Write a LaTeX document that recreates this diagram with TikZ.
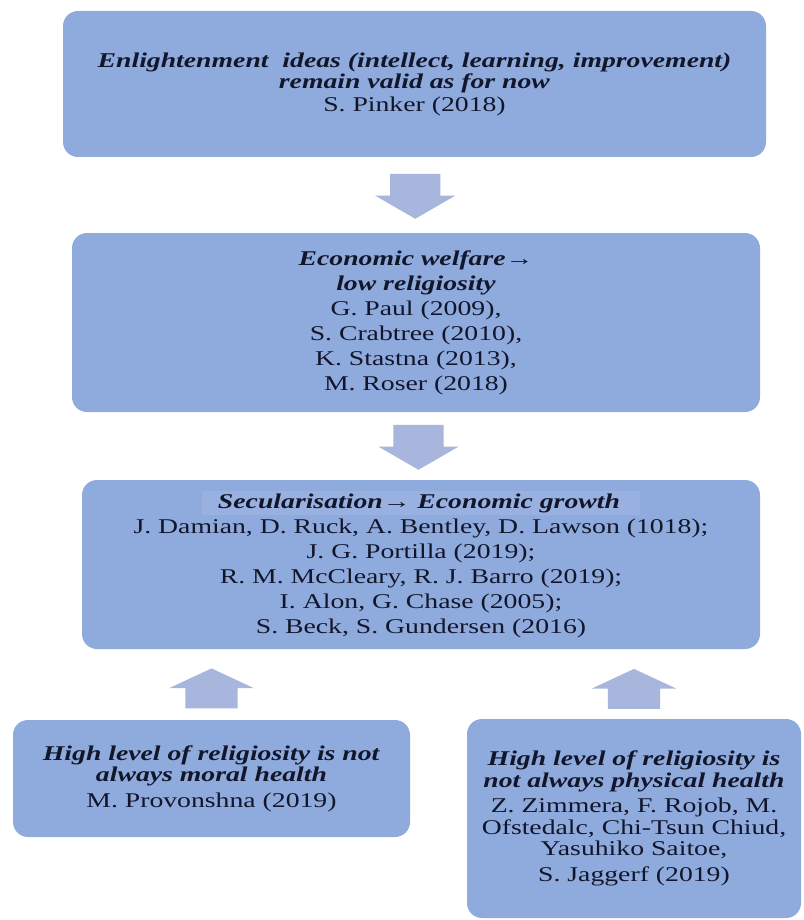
\documentclass[tikz,border=0pt]{standalone}
\usepackage{fontspec}
\setmainfont{Liberation Serif}[FakeStretch=1.32]
\usetikzlibrary{shapes.arrows,calc}
\definecolor{boxblue}{HTML}{8FAADC}
\definecolor{arrowblue}{RGB}{168,182,222}
\definecolor{hlblue}{RGB}{152,177,224}
\definecolor{ink}{RGB}{18,22,42}
\newcommand{\boxtitle}[1]{\textbf{\textit{#1}}}

\begin{document}
\begin{tikzpicture}[x=1pt,y=-1pt,box/.style={rounded corners=15pt,fill=boxblue,text=ink,align=center,inner sep=0pt,font=\fontsize{21}{25}\selectfont},boxS/.style={box,font=\fontsize{21}{21.5}\selectfont},arrowD/.style={single arrow,fill=arrowblue,inner xsep=0pt,inner ysep=25pt,minimum height=45pt,minimum width=80pt,single arrow head extend=15pt,single arrow tip angle=120,rotate=-90},arrowU/.style={arrowD,inner ysep=26pt,minimum height=40pt,minimum width=84pt,single arrow head extend=16pt,single arrow tip angle=130,rotate=180}]
\useasboundingbox (0,0) rectangle (803,920);

\node[boxS,minimum width=703,minimum height=146] (b1) at (414.5,84) {\boxtitle{Enlightenment\ \ ideas (intellect, learning, improvement)}\\ \boxtitle{remain valid as for now}\\[1pt] S. Pinker (2018)};

\node[box,minimum width=688,minimum height=179] (b2) at (416,322.5) {\boxtitle{Economic welfare→}\\ \boxtitle{low religiosity}\\ G. Paul (2009),\\ S. Crabtree (2010),\\ K. Stastna (2013),\\ M. Roser (2018)};

\node[box,minimum width=678,minimum height=169] (b3) at (421,564.5) {{\setlength{\fboxsep}{2pt}\colorbox{hlblue}{\hspace{14pt}\boxtitle{Secularisation→ Economic growth}\hspace{18pt}}}\\ J. Damian, D. Ruck, A. Bentley, D. Lawson (1018);\\ J. G. Portilla (2019);\\ R. M. McCleary, R. J. Barro (2019);\\ I. Alon, G. Chase (2005);\\ S. Beck, S. Gundersen (2016)};

\node[boxS,minimum width=397,minimum height=117] (b4) at (211.5,778.5) {\boxtitle{High level of religiosity is not}\\ \boxtitle{always moral health}\\[4pt] M. Provonshna (2019)};

\node[boxS,minimum width=334,minimum height=199] (b5) at (634,818.5) {\boxtitle{High level of religiosity is}\\ \boxtitle{not always physical health}\\[4pt] Z. Zimmera, F. Rojob, M.\\ Ofstedalc, Chi-Tsun Chiud,\\ Yasuhiko Saitoe,\\[4pt] S. Jaggerf (2019)};

% arrows between the boxes
\node[arrowD] (a1) at ($(b1.south)!0.5!(b2.north)+(0,-6)$) {};
\node[arrowD] (a2) at ($(b2.south)!0.5!(b3.north)+(0,-6)$) {};
\node[arrowU] (a3) at ($(b4.north |- b3.south)!0.5!(b4.north)+(0,10)$) {};
\node[arrowU] (a4) at ($(b5.north |- b3.south)!0.5!(b5.north)+(0,11)$) {};
\end{tikzpicture}
\end{document}
